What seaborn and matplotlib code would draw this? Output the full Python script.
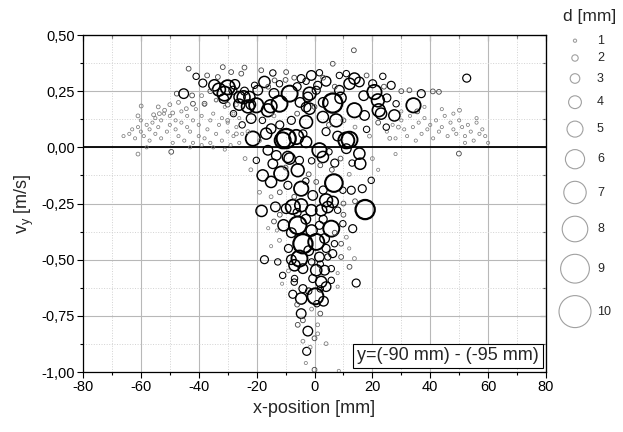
import numpy as np
import pandas as pd
import matplotlib
matplotlib.use('Agg')
import matplotlib.pyplot as plt
from matplotlib.ticker import MultipleLocator, FuncFormatter
import seaborn as sns

# droplets: x-position [mm], v_y [m/s], diameter d [mm]
# small droplets on the left wing
wing_l_x = [-66, -64, -63, -62, -61, -60, -60, -59, -58, -57, -57, -56, -55, -55, -54, -53, -53, -52,
            -51, -50, -50, -49, -48, -48, -47, -46, -46, -45, -44, -44, -43, -42, -42, -41, -40, -40,
            -39, -38, -38, -37, -36, -36, -35, -34, -34, -33, -32, -32, -31, -30, -30, -29, -28, -28,
            -27, -26, -26, -25, -61, -58, -54, -49.5, -47, -43, -39, -35, -31, -27, -61, -50]
wing_l_y = [0.05, 0.06, 0.08, 0.04, 0.09, 0.07, 0.12, 0.05, 0.10, 0.03, 0.08, 0.11, 0.06, 0.13, 0.09,
            0.04, 0.12, 0.15, 0.07, 0.10, 0.14, 0.02, 0.08, 0.12, 0.05, 0.11, 0.16, 0.03, 0.09, 0.14,
            0.07, 0.02, 0.12, 0.17, 0.05, 0.10, 0.14, 0.04, 0.19, 0.08, 0.12, 0.02, 0.15, 0.06, 0.21,
            0.10, 0.03, 0.13, 0.18, 0.07, 0.11, 0.01, 0.15, 0.05, 0.09, 0.13, 0.02, 0.06, -0.03, 0.00,
            0.18, -0.02, 0.20, 0.00, 0.01, 0.00, -0.01, 0.19, 0.14, 0.19]
wing_l_d = [1.0] * 58 + [1.2, 1.0, 1.2, 1.5, 1.2, 1.0, 1.0, 1.0, 1.0, 1.2, 1.2, 1.2]

# small droplets on the right wing
wing_r_x = [25, 27, 28, 30, 31, 32, 33, 34, 35, 36, 37, 38, 39, 40, 41, 42, 43, 44, 45, 46, 47, 48,
            49, 50, 51, 52, 53, 54, 55, 56, 57, 58, 59, 60, 44, 48, 52, 56, 38, 30, 49.9, 50.1, 35.5]
wing_r_y = [0.07, 0.10, 0.04, 0.12, 0.08, 0.05, 0.14, 0.09, 0.03, 0.11, 0.06, 0.13, 0.08, 0.10, 0.04,
            0.12, 0.07, 0.09, 0.14, 0.05, 0.11, 0.08, 0.06, 0.12, 0.09, 0.05, 0.10, 0.07, 0.03, 0.11,
            0.06, 0.08, 0.05, 0.02, 0.17, 0.15, 0.02, 0.13, 0.18, 0.16, -0.028, 0.165, 0.16]
wing_r_d = [1.0] * 40 + [1.5, 1.2, 1.5]

# upper cluster (moving upwards)
top_x = [-43.5, -59.9, -55.6, -53.6, -51.8, -49.0, -47.6, -45.2, -42.3, -40.9, -37.1, -38.6, -38.0,
         -42.0, -44.3, -31.7, -28.8, -24.2, -25.3, -33.4, -34.6, -33.0, -31.1, -31.4, -28.2, -25.9,
         -22.5, -20.7, -20.1, -17.3, -16.1, -21.9, -21.3, -15.0, -11.0, -8.6, -12.1, -2.9, -1.1,
         -18.4, -14.4, -9.8, -13.8, -12.1, 1.7, 4.0, 1.1, -4.6, -2.9, 6.3, 8.6, 11.0, 13.8, 15.5,
         20.1, 23.6, 26.5, 20.7, 22.2, 13.8, 28.2, 0.6, -2.3, -24.2, -19.6, -22.0, -2.9, 6.3, 13.6,
         52.6, 7.5, 2.9, 12.1, 21.9, 27.6, 34.2, 36.9, 24.8, 32.8, 40.9, 43.0, 8.6, 12.1, -1.7, -1.7,
         17.3, -23.0, -9.8, -6.3, -16.7, -2.9, 11.0, 23.0, -30.0, -24.5, -15.2,
         -27.5, -26.0, -14.0, -6.0, -5.0, 3.0, 9.0, 17.0, 25.0, 30.0, -4.0, 4.0, 8.0, 18.0, -8.0,
         -12.0, -18.0, -25.0, -28.0, -30.0, -27.0, -23.0, -19.0, -14.0, -6.0, 0.0, 5.0, 10.0, 14.0,
         19.0, 22.0, 26.0, 29.0, -10.0, -7.0, 3.0, 7.0, 18.0, 24.0, -36.0, -39.0, -34.0, -30.0, -16.0]
top_y = [0.35, 0.184, 0.145, 0.15, 0.165, 0.153, 0.239, 0.239, 0.231, 0.316, 0.32, 0.286, 0.194,
         0.194, 0.172, 0.357, 0.335, 0.355, 0.328, 0.313, 0.276, 0.257, 0.239, 0.217, 0.254, 0.224,
         0.224, 0.276, 0.187, 0.291, 0.165, 0.128, 0.039, 0.083, 0.031, 0.239, 0.194, 0.113, 0.32,
         0.343, 0.331, 0.335, 0.298, 0.283, 0.332, 0.294, 0.276, 0.306, 0.294, 0.197, 0.32, 0.328,
         0.306, 0.291, 0.283, 0.316, 0.276, 0.246, 0.165, 0.165, 0.194, 0.254, 0.224, 0.25, 0.254,
         0.19, 0.179, 0.372, 0.432, 0.308, 0.12, 0.135, 0.034, 0.209, 0.142, 0.187, 0.239, 0.09,
         0.254, 0.249, 0.247, 0.254, 0.283, 0.239, 0.172, 0.142, 0.182, 0.039, 0.046, 0.061, 0.024,
         0.031, 0.15, 0.267, 0.223, 0.183,
         0.28, 0.19, 0.24, 0.27, 0.20, 0.20, 0.22, 0.23, 0.22, 0.25, 0.06, 0.07, 0.05, 0.08, 0.12,
         0.10, 0.12, 0.10, 0.15, 0.12, 0.06, 0.07, 0.03, 0.14, 0.15, 0.18, 0.10, 0.12, 0.09, 0.05,
         0.11, 0.04, 0.09, 0.30, 0.31, 0.31, 0.27, 0.32, 0.27, 0.25, 0.23, 0.21, 0.19, 0.27]
top_d = [1.5, 1.2, 1.2, 1.2, 1.2, 1.2, 1.5, 3.0, 1.5, 2.0, 1.5, 2.5, 1.5, 1.5, 1.2, 1.5, 1.5, 1.5,
         1.5, 1.5, 3.5, 4.0, 4.5, 3.0, 2.5, 3.5, 3.5, 2.0, 4.5, 3.5, 4.0, 3.0, 4.5, 3.0, 5.0, 5.0,
         5.0, 4.0, 3.0, 1.5, 2.0, 1.5, 1.5, 2.0, 2.0, 3.0, 2.5, 2.5, 2.0, 6.0, 2.0, 2.0, 3.5, 3.0,
         2.5, 2.0, 2.5, 4.5, 4.0, 4.5, 2.0, 2.5, 3.0, 2.5, 3.0, 3.0, 3.0, 1.5, 1.5, 2.5, 4.0, 3.5,
         5.0, 4.0, 3.5, 4.5, 2.5, 2.0, 1.5, 1.5, 1.5, 3.0, 3.5, 4.0, 3.5, 3.0, 4.0, 6.0, 4.5, 3.5,
         3.5, 5.0, 3.5, 4.5, 4.0, 4.0,
         3.0, 3.5, 3.0, 2.5, 3.0, 3.0, 3.5, 3.0, 2.5, 1.5, 2.5, 2.5, 3.0, 2.0, 2.5, 2.5, 2.0, 2.0,
         2.0, 1.2, 1.2, 1.2, 1.2, 1.2, 1.5, 1.5, 1.5, 1.5, 1.2, 1.2, 1.5, 1.2, 1.2, 1.5, 1.5, 1.5,
         1.5, 1.5, 1.5, 1.5, 1.2, 1.2, 1.5, 1.5]

# droplets around zero down to -0.3 m/s
mid_x = [-16.1, -8.6, 1.7, 2.9, 11.0, 15.5, 15.8, -20.1, -15.0, -11.5, -9.2, -5.8, -5.2, -9.2, -4.6,
         -0.6, 0.6, 4.0, 6.3, 9.8, 12.7, 16.5, 17.5, 6.7, -13.5, -9.8, -7.5, -4.6, -1.1, 2.3, -18.3,
         -17.9, -14.4, -13.2, 19.6, 4.6,
         -22.0, -19.0, -24.0, -12.0, -7.0, -2.0, 2.0, 6.0, 9.0, 12.0, 14.0, 20.0, 22.0, 28.0, -3.0,
         3.0, -10.0, 8.0, -6.0, 10.0, -15.0, 5.0, -1.0, 7.0, 13.0]
mid_y = [-0.013, -0.05, -0.013, -0.043, -0.006, -0.028, -0.073, -0.058, -0.154, -0.117, -0.043,
         -0.102, -0.058, -0.169, -0.184, -0.214, -0.154, -0.236, -0.243, -0.191, -0.191, -0.184,
         -0.277, -0.159, -0.265, -0.273, -0.265, -0.258, -0.28, -0.28, -0.283, -0.125, -0.073,
         -0.036, -0.147, -0.266,
         -0.10, -0.20, -0.05, -0.20, -0.22, -0.12, -0.08, -0.10, -0.05, -0.12, -0.24, -0.05, -0.10,
         -0.03, -0.15, -0.19, -0.09, -0.28, -0.29, -0.25, -0.22, -0.02, -0.06, -0.07, -0.07]
mid_d = [3.0, 3.5, 4.5, 3.5, 3.0, 3.5, 3.5, 2.0, 3.5, 4.5, 3.5, 4.0, 2.5, 2.5, 4.5, 3.0, 1.5, 4.0,
         3.5, 2.0, 2.5, 2.5, 6.0, 5.5, 3.0, 3.0, 4.5, 4.0, 3.5, 3.5, 3.5, 3.5, 3.0, 3.0, 2.0, 3.5,
         1.2, 1.2, 1.2, 1.5, 1.5, 1.5, 1.5, 1.5, 1.5, 1.2, 1.5, 1.2, 1.0, 1.0, 2.0, 2.5, 1.5, 2.0,
         2.5, 1.5, 1.2, 2.0, 2.0, 2.5, 2.0]

# downward plume
low_x = [-10.7, -5.8, 1.7, 5.8, 9.8, 13.2, -4.0, 0.6, 3.5, 6.9, 9.2, -17.3, -12.7, -5.2, -6.9, 1.7,
         4.6, 6.3, 9.2, -4.0, 0.6, 3.5, 5.8, -11.0, -6.9, -0.6, 2.3, 5.8, -4.0, 12.1, 13.8, -12.1,
         14.4, 0.3, -4.6, -7.5, 3.1, -4.6, -2.3, -2.7, 0.0, 0.0, 0.8, -5.8, -4.0, 1.1, 1.1, -4.0,
         4.0, 8.4, 4.0, -11.2, 8.0,
         -3.0, -8.0, -1.0, 3.0, -14.0, -9.0, -2.0, 4.0, -8.0, -1.0, 2.0, -7.0, -2.0, 2.0, -6.0, 2.0,
         -1.0, -3.0, -1.5, 7.0, 11.0, -15.0, -13.0, 12.0, 8.0, -9.0, -16.0, 10.0, -12.0]
low_y = [-0.347, -0.347, -0.347, -0.362, -0.34, -0.362, -0.429, -0.421, -0.406, -0.429, -0.429,
         -0.5, -0.51, -0.495, -0.525, -0.488, -0.488, -0.473, -0.488, -0.54, -0.547, -0.547, -0.54,
         -0.57, -0.584, -0.584, -0.599, -0.592, -0.629, -0.532, -0.495, -0.414, -0.604, -0.663,
         -0.673, -0.654, -0.685, -0.74, -0.818, -0.908, -0.85, -0.99, -0.696, -0.79, -0.77, -0.79,
         -0.83, -0.863, -0.874, -0.995, -0.62, -0.607, -0.62,
         -0.32, -0.38, -0.37, -0.32, -0.33, -0.45, -0.46, -0.45, -0.50, -0.51, -0.52, -0.60, -0.64,
         -0.63, -0.70, -0.74, -0.72, -0.96, -0.89, -0.38, -0.40, -0.44, -0.37, -0.45, -0.56, -0.55,
         -0.36, -0.30, -0.30]
low_d = [3.5, 5.5, 2.5, 5.0, 2.0, 2.5, 6.0, 5.0, 3.0, 2.0, 1.5, 2.5, 2.0, 5.0, 3.5, 3.0, 2.0, 2.5,
         1.5, 3.0, 3.5, 3.0, 2.0, 2.0, 2.0, 2.5, 3.5, 2.0, 2.5, 1.5, 1.2, 1.2, 2.5, 5.0, 3.5, 2.5,
         3.0, 3.0, 3.0, 2.5, 1.5, 1.5, 2.0, 1.5, 1.5, 1.2, 1.2, 1.2, 1.2, 1.0, 3.0, 1.0, 1.0,
         3.0, 3.0, 3.5, 2.5, 1.5, 2.5, 3.0, 2.5, 3.0, 2.0, 2.0, 2.0, 2.0, 2.0, 1.5, 1.5, 1.2, 1.0,
         1.2, 1.5, 1.2, 1.0, 1.0, 1.0, 1.0, 1.2, 1.0, 1.5, 1.5]

legend_d = [1, 2, 3, 4, 5, 6, 7, 8, 9, 10]

drops = pd.DataFrame({
    'x': wing_l_x + wing_r_x + top_x + mid_x + low_x,
    'y': wing_l_y + wing_r_y + top_y + mid_y + low_y,
    'd': wing_l_d + wing_r_d + top_d + mid_d + low_d,
})
# the tiny droplets print grey in the original
edge = ['#7a7a7a' if d <= 1.2 else ('#4a4a4a' if d <= 1.5 else 'black') for d in drops['d']]

sns.set_style('white')
plt.rcParams['font.family'] = ['Liberation Sans', 'DejaVu Sans']
plt.rcParams['mathtext.fontset'] = 'custom'
plt.rcParams['mathtext.rm'] = 'Liberation Sans'
plt.rcParams['mathtext.it'] = 'Liberation Sans:italic'

fig = plt.figure(figsize=(6.23, 4.32), dpi=100)
ax = fig.add_axes([83 / 623, 1 - 372 / 432, 463 / 623, 337 / 432])

# marker diameter grows linearly with d
sns.scatterplot(data=drops, x='x', y='y', s=5.3 * drops['d'] ** 2, facecolor='none',
                edgecolor=edge, linewidth=0.3 + 0.22 * drops['d'], legend=False, ax=ax, zorder=3)

ax.axhline(0, color='black', lw=1.3, zorder=2)
ax.set_xlim(-80, 80)
ax.set_ylim(-1.0, 0.5)
ax.xaxis.set_major_locator(MultipleLocator(20))
ax.xaxis.set_minor_locator(MultipleLocator(10))
ax.yaxis.set_major_locator(MultipleLocator(0.25))
ax.yaxis.set_minor_locator(MultipleLocator(0.125))
ax.xaxis.set_major_formatter(FuncFormatter(lambda v, p: '%d' % round(v)))
ax.yaxis.set_major_formatter(FuncFormatter(lambda v, p: ('%.2f' % (v + 0.0)).replace('.', ',')))
ax.grid(which='major', color='#b8b8b8', lw=0.8)
ax.grid(which='minor', color='#d2d2d2', lw=0.7, ls=':')
ax.set_axisbelow(True)
for s in ax.spines.values():
    s.set_color('black')
    s.set_linewidth(0.9)
ax.tick_params(which='both', direction='out', width=0.8, colors='black', labelsize=10.5, pad=2,
               bottom=True, left=True)
ax.tick_params(which='major', length=4)
ax.tick_params(which='minor', length=2.5)

# inward ticks on top and right
for sec in [ax.secondary_xaxis('top'), ax.secondary_yaxis('right')]:
    sec.tick_params(which='both', direction='in', width=0.8, labelleft=False, labelright=False,
                    labeltop=False, labelbottom=False)
    sec.tick_params(which='major', length=4)
    sec.tick_params(which='minor', length=2.5)
sec_axes = [c for c in ax.child_axes]
sec_axes[0].xaxis.set_major_locator(MultipleLocator(20))
sec_axes[0].xaxis.set_minor_locator(MultipleLocator(10))
sec_axes[1].yaxis.set_major_locator(MultipleLocator(0.25))
sec_axes[1].yaxis.set_minor_locator(MultipleLocator(0.125))

ax.set_xlabel('x-position [mm]', fontsize=13, labelpad=4)
ax.set_ylabel(r'$\mathrm{v_y}$ [m/s]', fontsize=13, labelpad=4)

ax.text(0.789, 0.0475, 'y=(-90 mm) - (-95 mm)', transform=ax.transAxes, fontsize=13,
        ha='center', va='center',
        bbox=dict(boxstyle='square,pad=0.22', fc='white', ec='black', lw=0.8))

# size legend to the right of the plot
lax = fig.add_axes([553 / 623, 0, 70 / 623, 1])
lax.set_xlim(0, 70)
lax.set_ylim(432, 0)
lax.axis('off')
rad = [1.6 * d for d in legend_d]
ys = [40.7]
for i in range(1, len(legend_d)):
    ys.append(ys[-1] + rad[i - 1] + rad[i] + 12.5)
lax.scatter([22] * len(legend_d), ys, s=[5.3 * d ** 2 for d in legend_d], facecolor='none',
            edgecolor='#a0a0a0', linewidth=0.8, clip_on=False)
for d, yy in zip(legend_d, ys):
    lax.text(44, yy, str(d), fontsize=9, va='center', ha='left')
lax.text(37, 17, 'd [mm]', fontsize=12.5, ha='center', va='center')

fig.savefig('out.png', dpi=100)
